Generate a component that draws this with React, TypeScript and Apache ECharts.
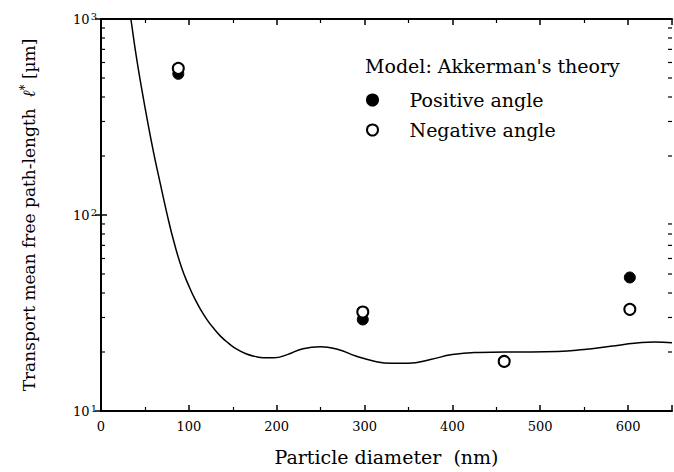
import React, { useEffect, useRef } from "react";
import * as echarts from "echarts";

// ---- data ----
const yTickExponents: Record<number, string> = { 10: "1", 100: "2", 1000: "3" };
const logMinorTicks = [20, 30, 40, 50, 60, 70, 80, 90, 200, 300, 400, 500, 600, 700, 800, 900];

// Model curve (Akkerman's theory): particle diameter [nm] -> l* [µm]
const modelDiameter = [30, 34, 40, 46, 53, 60, 67, 75, 83, 92, 100, 107, 114, 121, 128, 136, 145, 155, 165, 175, 185, 197, 212, 230, 250, 270, 290, 310, 330, 350, 375, 400, 430, 460, 490, 520, 550, 580, 610, 630, 650];
const modelLength = [1300, 1000, 652, 449, 300, 207, 148, 102, 73, 53.5, 43.5, 37.2, 32.6, 29.1, 26.5, 24.1, 22.2, 20.6, 19.6, 19.0, 18.7, 18.7, 19.4, 20.8, 21.3, 20.6, 19.1, 18.0, 17.5, 17.5, 18.3, 19.4, 19.9, 20.0, 20.0, 20.1, 20.6, 21.4, 22.2, 22.5, 22.3];

// Measurements
const diameters = [88, 298, 459, 602];
const positiveAngle = [525, 29.3, 18.0, 48];
const negativeAngle = [560, 32, 17.9, 33];

const FONT = "DejaVu Serif";

export default function App() {
  const ref = useRef<HTMLDivElement>(null);

  useEffect(() => {
    document.body.style.margin = "0";
    const chart = echarts.init(ref.current!, null, { renderer: "svg" });

    const axisLine = { show: true, lineStyle: { color: "#000", width: 2 } };
    const tickStyle = { color: "#000", width: 1.5 };

    const xBase = {
      type: "value",
      min: 0,
      max: 650,
      interval: 100,
      splitLine: { show: false },
      axisLine,
      axisTick: { show: true, inside: true, length: 6, lineStyle: tickStyle },
      minorTick: { show: true, splitNumber: 2, length: 4, lineStyle: { color: "#000", width: 1.2 } },
      minorSplitLine: { show: false },
    };
    const yBase = {
      type: "log",
      logBase: 10,
      min: 10,
      max: 1000,
      splitLine: { show: false },
      axisLine,
      axisTick: { show: true, inside: true, length: 6, lineStyle: tickStyle },
    };

    chart.setOption({
      animation: false,
      backgroundColor: "#fff",
      title: {
        text: "Model: Akkerman's theory",
        left: 365,
        top: 56,
        padding: 0,
        textStyle: { fontFamily: FONT, fontSize: 19, fontWeight: "normal", color: "#000" },
      },
      legend: {
        data: ["Positive angle", "Negative angle"],
        orient: "vertical",
        left: 366,
        top: 89,
        padding: 0,
        itemWidth: 40,
        itemHeight: 11,
        itemGap: 8,
        textStyle: { fontFamily: FONT, fontSize: 19, color: "#000", lineHeight: 22, padding: [0, 0, 0, 12] },
      },
      grid: { left: 101, top: 19, width: 571, height: 392, containLabel: false },
      xAxis: [
        {
          ...xBase,
          position: "bottom",
          name: "Particle diameter  (nm)",
          nameLocation: "middle",
          nameGap: 36,
          nameTextStyle: { fontFamily: FONT, fontSize: 19, color: "#000" },
          axisLabel: {
            fontFamily: FONT,
            fontSize: 13,
            color: "#000",
            margin: 9,
            showMaxLabel: false,
          },
        },
        { ...xBase, position: "top", axisLabel: { show: false } },
      ],
      yAxis: [
        {
          ...yBase,
          position: "left",
          name: "Transport mean free path-length  {it|ℓ}{sup|*} [µm]",
          nameLocation: "middle",
          nameGap: 62,
          nameTextStyle: {
            fontFamily: FONT,
            fontSize: 17,
            color: "#000",
            rich: {
              it: { fontFamily: FONT, fontSize: 17, fontStyle: "italic", color: "#000" },
              sup: { fontFamily: FONT, fontSize: 12, color: "#000", verticalAlign: "top", padding: [0, 0, 8, 0] },
            },
          },
          axisLabel: {
            fontFamily: FONT,
            fontSize: 13,
            color: "#000",
            margin: 4,
            formatter: (v: number) => {
              const e = yTickExponents[Math.round(v)];
              return e ? `{b|10}{s|${e}}` : "";
            },
            rich: {
              b: { fontFamily: FONT, fontSize: 13, color: "#000", lineHeight: 16 },
              s: { fontFamily: FONT, fontSize: 10, color: "#000", lineHeight: 16, verticalAlign: "top", padding: [0, 0, 6, 1] },
            },
          },
        },
        { ...yBase, position: "right", axisLabel: { show: false } },
      ],
      series: [
        {
          name: "Model: Akkerman's theory",
          type: "line",
          data: modelDiameter.map((d, i) => [d, modelLength[i]]),
          showSymbol: false,
          smooth: 0.5,
          clip: true,
          lineStyle: { color: "#000", width: 1.5 },
          z: 3,
        },
        {
          name: "Positive angle",
          type: "scatter",
          data: diameters.map((d, i) => [d, positiveAngle[i]]),
          symbol: "circle",
          symbolSize: 11,
          itemStyle: { color: "#000", borderColor: "#000", borderWidth: 1, opacity: 1 },
          z: 4,
        },
        {
          name: "Negative angle",
          type: "scatter",
          data: diameters.map((d, i) => [d, negativeAngle[i]]),
          symbol: "circle",
          symbolSize: 11,
          itemStyle: { color: "#fff", borderColor: "#000", borderWidth: 2, opacity: 1 },
          z: 5,
        },
        {
          name: "log minor ticks",
          type: "custom",
          silent: true,
          clip: false,
          data: logMinorTicks.map((v) => [0, v]),
          encode: { x: 0, y: 1 },
          renderItem: (_params: any, api: any) => {
            const v = api.value(1);
            const l = api.coord([0, v]);
            const r = api.coord([650, v]);
            return {
              type: "group",
              children: [
                { type: "line", shape: { x1: l[0], y1: l[1], x2: l[0] + 4, y2: l[1] }, style: { stroke: "#000", lineWidth: 1.2 } },
                { type: "line", shape: { x1: r[0], y1: r[1], x2: r[0] - 4, y2: r[1] }, style: { stroke: "#000", lineWidth: 1.2 } },
              ],
            };
          },
          z: 6,
        },
      ],
    });

    return () => chart.dispose();
  }, []);

  return <div ref={ref} style={{ position: "absolute", left: 0, top: 0, width: 674, height: 472 }} />;
}
